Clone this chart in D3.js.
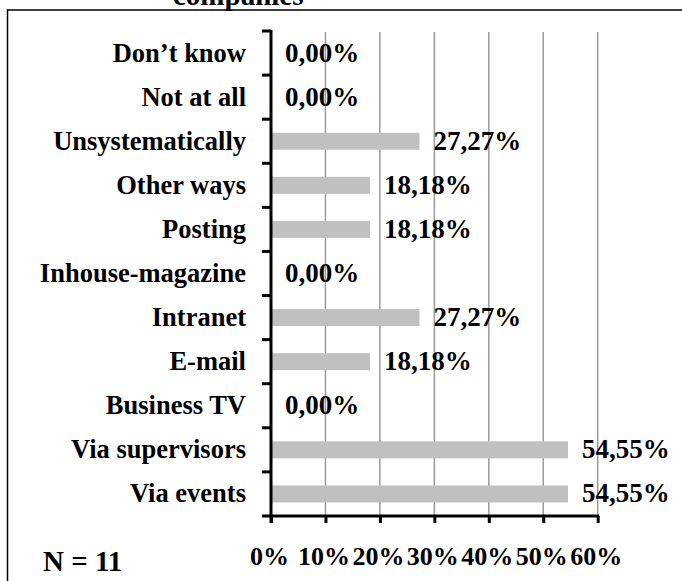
<!DOCTYPE html>
<html>
<head>
<meta charset="utf-8">
<script src="https://cdn.jsdelivr.net/npm/d3@7"></script>
<style>
  html, body { margin: 0; padding: 0; background: #fff; }
  svg { display: block; }
  text { font-family: "Liberation Serif", "Times New Roman", serif; font-weight: bold; fill: #000; }
</style>
</head>
<body>
<svg id="chart" width="682" height="581"></svg>
<script>
// Channels used to inform employees (top to bottom), share of companies in %
const categories = [
  "Don\u2019t know", "Not at all", "Unsystematically", "Other ways", "Posting",
  "Inhouse-magazine", "Intranet", "E-mail", "Business TV", "Via supervisors", "Via events"
];
const values = [0.00, 0.00, 27.27, 18.18, 18.18, 0.00, 27.27, 18.18, 0.00, 54.55, 54.55];
const xTicks = [0, 10, 20, 30, 40, 50, 60];
const titleText = "companies";
const sampleNote = "N = 11";

const svg = d3.select("#chart");
const plot = { left: 271, right: 597.7, top: 31, bottom: 516 };

const x = d3.scaleLinear().domain([0, 60]).range([plot.left, plot.right]);
const y = d3.scaleBand().domain(categories).range([plot.top, plot.bottom]).paddingInner(0).paddingOuter(0);
const fmt = v => v.toFixed(2).replace(".", ",") + "%";

// Outer frame (extends past the visible area on the right and bottom)
svg.append("path")
  .attr("d", "M7.5,700 L7.5,10 L700,10")
  .attr("fill", "none").attr("stroke", "#000").attr("stroke-width", 1.5);

// Title, mostly clipped by the top edge
svg.append("text").attr("x", 173).attr("y", 5).attr("font-size", 29).text(titleText);

// Vertical gridlines
svg.append("g").selectAll("line").data(xTicks.slice(1)).join("line")
  .attr("x1", d => x(d)).attr("x2", d => x(d))
  .attr("y1", plot.top + 1).attr("y2", plot.bottom)
  .attr("stroke", "#9a9a9a").attr("stroke-width", 1.5);

// Bars
svg.append("g").selectAll("rect").data(values).join("rect")
  .attr("x", x(0))
  .attr("y", (d, i) => y(categories[i]) + y.bandwidth() / 2 - 8.5)
  .attr("width", d => x(d) - x(0))
  .attr("height", 17)
  .attr("fill", "#c0c0c0");

// Value labels
svg.append("g").selectAll("text").data(values).join("text")
  .attr("x", d => x(d) + 14)
  .attr("y", (d, i) => y(categories[i]) + y.bandwidth() / 2 + 8.5)
  .attr("font-size", 27)
  .text(d => fmt(d));

// Category labels
svg.append("g").selectAll("text").data(categories).join("text")
  .attr("x", 246)
  .attr("y", d => y(d) + y.bandwidth() / 2 + 8.5)
  .attr("text-anchor", "end")
  .attr("font-size", 26.5)
  .text(d => d);

// Y axis with ticks at band boundaries
const yBounds = categories.map(c => y(c)).concat([plot.bottom]);
svg.append("line")
  .attr("x1", plot.left).attr("x2", plot.left)
  .attr("y1", plot.top - 1).attr("y2", plot.bottom + 7)
  .attr("stroke", "#000").attr("stroke-width", 3);
svg.append("g").selectAll("line").data(yBounds).join("line")
  .attr("x1", plot.left - 9).attr("x2", plot.left)
  .attr("y1", d => d).attr("y2", d => d)
  .attr("stroke", "#000").attr("stroke-width", 3);

// X axis
const xAxis = d3.axisBottom(x).tickValues(xTicks).tickSize(7).tickSizeOuter(0).tickFormat(d => d + "%");
const gx = svg.append("g").attr("transform", `translate(0,${plot.bottom})`).call(xAxis);
gx.select(".domain").attr("stroke", "#000").attr("stroke-width", 3)
  .attr("d", `M${plot.left - 1.5},0H${plot.right + 1.5}`);
gx.selectAll(".tick line").attr("stroke", "#000").attr("stroke-width", 3);
gx.selectAll(".tick text")
  .attr("y", 49).attr("dy", 0).attr("dx", -2)
  .attr("font-size", 26)
  .attr("font-family", "Liberation Serif, Times New Roman, serif")
  .attr("font-weight", "bold")
  .attr("fill", "#000");

// Sample size note
svg.append("text").attr("x", 43).attr("y", 571).attr("font-size", 29).text(sampleNote);
</script>
</body>
</html>
